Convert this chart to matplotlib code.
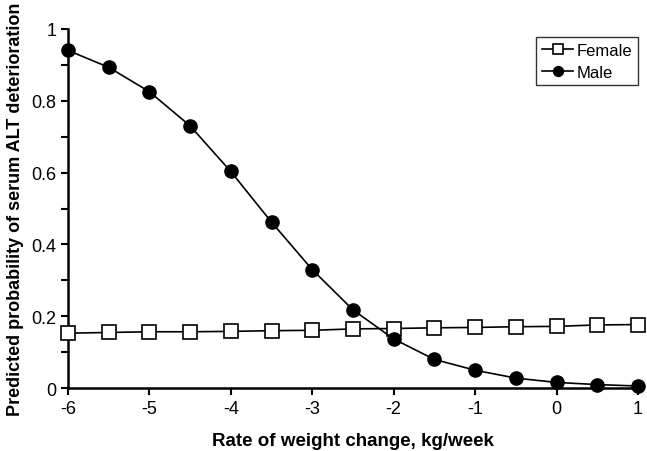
import matplotlib
matplotlib.use("Agg")
import matplotlib.pyplot as plt
import numpy as np

plt.rcParams['font.family'] = ['Liberation Sans', 'DejaVu Sans']
plt.rcParams['axes.unicode_minus'] = False

rate = [-6, -5.5, -5, -4.5, -4, -3.5, -3, -2.5, -2, -1.5, -1, -0.5, 0, 0.5, 1]
female = [0.153, 0.155, 0.157, 0.157, 0.158, 0.160, 0.161, 0.165, 0.166,
          0.168, 0.169, 0.171, 0.172, 0.176, 0.177]
male = [0.940, 0.893, 0.825, 0.730, 0.603, 0.462, 0.330, 0.218, 0.137,
        0.080, 0.050, 0.028, 0.016, 0.010, 0.006]

fig = plt.figure(figsize=(6.47, 4.52), dpi=100)
ax = fig.add_axes([0.105, 0.139, 0.881, 0.795])

ax.plot(rate, female, '-s', color='black', mfc='white', mec='black', ms=9.5,
        lw=1.2, mew=1.2, label='Female', clip_on=False, zorder=3)
ax.plot(rate, male, '-o', color='black', mfc='black', ms=9.5,
        lw=1.2, label='Male', clip_on=False, zorder=4)

ax.set_xlim(-6, 1)
ax.set_ylim(0, 1)
ax.set_xticks(np.arange(-6, 2, 1))
ax.set_yticks([0, 0.2, 0.4, 0.6, 0.8, 1])
ax.set_yticklabels(['0', '0.2', '0.4', '0.6', '0.8', '1'])
ax.set_yticks(np.arange(0.1, 1.0, 0.2), minor=True)
ax.tick_params(axis='both', labelsize=13, direction='out', length=5, width=1.5)
ax.tick_params(axis='y', which='minor', length=5, width=1.5)
for s in ['top', 'right']:
    ax.spines[s].set_visible(False)
for s in ['left', 'bottom']:
    ax.spines[s].set_linewidth(1.8)

ax.set_xlabel('Rate of weight change, kg/week', fontsize=13.5, fontweight='bold', labelpad=11)
ax.set_ylabel('Predicted probability of serum ALT deterioration', fontsize=13,
              fontweight='bold', labelpad=5)

leg = ax.legend(loc='upper right', bbox_to_anchor=(1.015, 1.0), fontsize=12,
                frameon=True, fancybox=False, edgecolor='black', handlelength=1.9,
                handletextpad=0.2, borderpad=0.35, labelspacing=0.4, markerscale=0.75)
leg.get_frame().set_linewidth(1.0)

fig.savefig('out.png', dpi=100)
